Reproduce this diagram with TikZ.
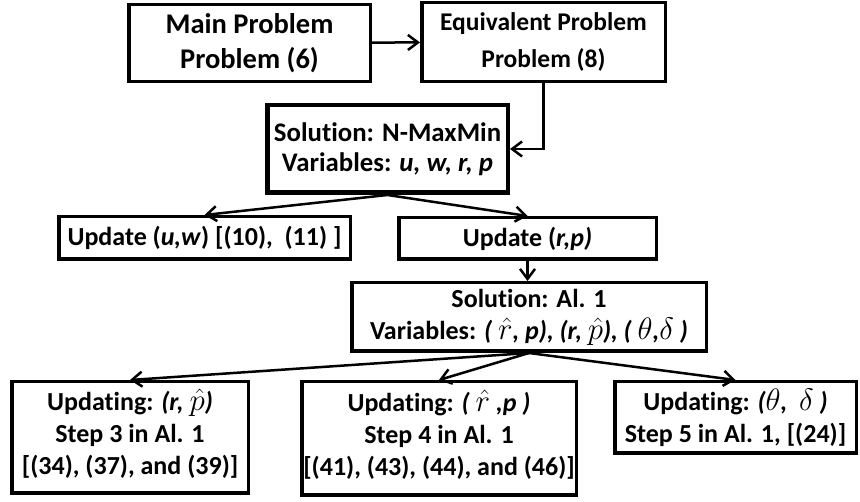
\RequirePackage{fix-cm}
\documentclass[tikz,border=0pt]{standalone}
\usepackage{fontspec}
\setmainfont{Carlito}[Ligatures=NoCommon]
\usetikzlibrary{arrows.meta}
\newcommand\mymath[1]{{\fontsize{31}{31}\selectfont$#1$}}
\begin{document}
\begin{tikzpicture}[x=1pt,y=1pt,
  box/.style={draw=black,line width=3.5pt,fill=white,inner sep=0pt,align=center,
    font=\bfseries\fontsize{26}{32}\selectfont},
  conn/.style={line width=2.5pt,-{Straight Barb[length=10pt,width=15pt,line width=2.5pt]}}]
\useasboundingbox (0,0) rectangle (860,-502);
\node[box,minimum width=241.5pt,minimum height=77pt,font=\bfseries\fontsize{28.5}{35}\selectfont] (b1) at (249.5,-43) {Main Problem\\Problem (6)};
\node[box,minimum width=243.5pt,minimum height=79pt,font=\bfseries\fontsize{25.5}{37}\selectfont] (b2) at (543.5,-42) {Equivalent Problem\\Problem (8)};
\node[box,line width=4.5pt,minimum width=240.5pt,minimum height=87.5pt,font=\bfseries\fontsize{26.8}{30}\selectfont] (b3) at (387.5,-149) {Solution: N-MaxMin\\Variables: \textit{u, w, r, p}};
\node[box,minimum width=291.5pt,minimum height=42.5pt] (b4) at (204.5,-238) {Update (\textit{u,w}) [(10),\ \ (11) ]};
\node[box,minimum width=257.5pt,minimum height=41.5pt] (b5) at (527.5,-238.5) {Update (\textit{r,p)}};
\node[box,minimum width=354.5pt,minimum height=68.5pt] (b6) at (529,-317) {Solution: Al. 1\\Variables: \textit{( \mymath{\hat{r}}, p), (r, \mymath{\hat{p}}), ( \mymath{\theta},\mymath{\delta} )}};
\node[box,minimum width=236.5pt,minimum height=111.5pt] (b7) at (130,-437.5) {Updating: \textit{(r, \mymath{\hat{p}})}\\Step 3 in Al. 1\\{[}(34), (37), and (39)]\rule[-12pt]{0pt}{0pt}};
\node[box,minimum width=274.5pt,minimum height=113.5pt] (b8) at (439,-438.5) {Updating: \textit{( \mymath{\hat{r}} ,p )}\\Step 4 in Al. 1\\{[}(41), (43), (44), and (46)]\rule[-12pt]{0pt}{0pt}};
\node[box,minimum width=241.5pt,minimum height=71.5pt] (b9) at (735.5,-417.5) {Updating: \textit{(\mymath{\theta}, \ \mymath{\delta} )}\\Step 5 in Al. 1, [(24)]};
\draw[conn] (b1) -- (b2);
\draw[conn] (b2.south) |- (b3.east);
\draw[conn] (b3.south) -- (b4.north);
\draw[conn] (b3.south) -- (b5.north);
\draw[conn] (b5.south) -- (b5.south |- b6.north);
\draw[conn] (b6.south) -- (b7.north);
\draw[conn] (b6.south) -- (b8.north);
\draw[conn] (b6.south) -- (b9.north);
\end{tikzpicture}
\end{document}
